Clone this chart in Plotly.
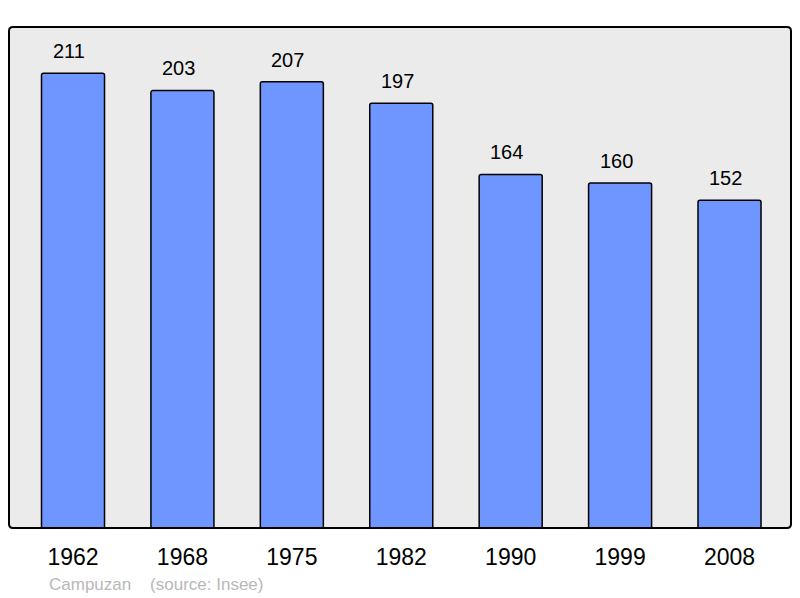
import plotly.graph_objects as go

years = ["1962", "1968", "1975", "1982", "1990", "1999", "2008"]
population = [211, 203, 207, 197, 164, 160, 152]

FONT = "Liberation Sans, Arial, sans-serif"

fig = go.Figure()
fig.add_trace(go.Bar(
    x=list(range(len(years))), y=population,
    width=0.576,
    marker=dict(color="#6f96ff", line=dict(color="#000000", width=1.5), cornerradius=2),
    hoverinfo="skip",
))
for i, v in enumerate(population):
    fig.add_annotation(x=i, y=v, text=str(v), showarrow=False, yanchor="bottom",
                       yshift=9, xshift=-4, font=dict(family=FONT, size=20, color="#000000"))

fig.add_annotation(xref="paper", yref="paper", x=(47 - 9) / 782, y=-(584 - 528) / 501,
                   xanchor="left", yanchor="middle", showarrow=False,
                   text="Campuzan&nbsp;&nbsp;&nbsp;&nbsp;(source: Insee)",
                   font=dict(family=FONT, size=17, color="#b8b8b8"))

rx, ry = 4 / 782, 4 / 501
frame = (f"M {rx} 0 L {1-rx} 0 Q 1 0 1 {ry} L 1 {1-ry} Q 1 1 {1-rx} 1 "
         f"L {rx} 1 Q 0 1 0 {1-ry} L 0 {ry} Q 0 0 {rx} 0 Z")
fig.add_shape(type="path", xref="paper", yref="paper", layer="above",
              path=frame, line=dict(color="#000000", width=2))

fig.update_layout(
    width=800, height=598,
    margin=dict(l=9, r=9, t=27, b=70),
    plot_bgcolor="#ebebeb", paper_bgcolor="#ffffff",
    showlegend=False,
    xaxis=dict(type="linear", range=[-0.585, 6.562], showgrid=False, zeroline=False,
               tickmode="array", tickvals=list(range(len(years))), ticktext=years,
               ticks="outside", ticklen=8, tickcolor="rgba(0,0,0,0)",
               tickfont=dict(family=FONT, size=23, color="#000000")),
    yaxis=dict(range=[0, 232.4], showgrid=False, zeroline=False, showticklabels=False),
)
fig.write_html("out.html", config={"displayModeBar": False},
               post_script="document.body.style.margin='0';document.body.style.padding='0';")
